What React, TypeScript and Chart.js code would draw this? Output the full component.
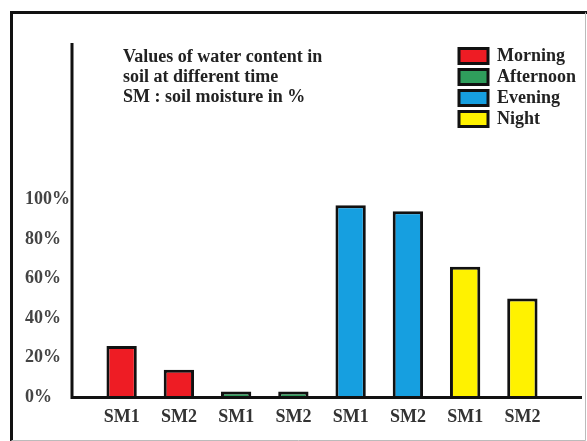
import React, { useEffect, useRef } from "react";
import { Chart, registerables } from "chart.js";

Chart.register(...registerables);

// ---- data ----
const sensorLabels = ["SM1", "SM2"];
const periods = ["Morning", "Afternoon", "Evening", "Night"];
const morningValues = [26, 14];
const afternoonValues = [3, 3];
const eveningValues = [97, 94];
const nightValues = [66, 50];
const yTickValues = [0, 20, 40, 60, 80, 100];
const titleLines = [
  "Values of water content in",
  "soil at different time",
  "SM : soil moisture in %",
];

// ---- styles ----
const periodColors = ["#ee1c24", "#2f9e5c", "#169fe0", "#fff200"];
const FONT = '"Liberation Serif", "Times New Roman", serif';
const Y_MAX = 179;

const seriesValues = [morningValues, afternoonValues, eveningValues, nightValues];
const categories = periods.flatMap(() => sensorLabels);

const decorPlugin = {
  id: "decor",
  afterLayout(chart: any) {
    const lg = chart.legend;
    if (lg) {
      lg.left = 456;
      lg.top = 44;
      lg.right = 587;
      lg.bottom = 150;
    }
  },
  beforeDraw(chart: any) {
    const ctx = chart.ctx;
    ctx.save();
    ctx.fillStyle = "#ffffff";
    ctx.fillRect(0, 0, chart.width, chart.height);
    // outer frame
    ctx.strokeStyle = "#111";
    ctx.lineWidth = 3;
    ctx.beginPath();
    ctx.moveTo(11.5, chart.height);
    ctx.lineTo(11.5, 12.5);
    ctx.lineTo(chart.width, 12.5);
    ctx.stroke();
    ctx.strokeStyle = "#bbbbbb";
    ctx.lineWidth = 1;
    ctx.beginPath();
    ctx.moveTo(585.5, 12.5);
    ctx.lineTo(585.5, 440.5);
    ctx.lineTo(11.5, 440.5);
    ctx.stroke();
    ctx.restore();
  },
  afterDatasetsDraw(chart: any) {
    const ctx = chart.ctx;
    const yScale = chart.scales.y;
    const base = yScale.getPixelForValue(0);
    const axisX = chart.chartArea.left - 21;
    ctx.save();
    ctx.strokeStyle = "#111";
    ctx.lineWidth = 3;
    ctx.beginPath();
    ctx.moveTo(axisX, chart.chartArea.top);
    ctx.lineTo(axisX, base);
    ctx.lineTo(582, base);
    ctx.stroke();
    // title text
    ctx.fillStyle = "#222";
    ctx.font = `bold 18px ${FONT}`;
    ctx.textBaseline = "alphabetic";
    ctx.textAlign = "left";
    titleLines.forEach((line, i) => {
      ctx.fillText(line, 123, 62 + i * 20);
    });
    ctx.restore();
  },
};

export default function App() {
  const canvasRef = useRef<HTMLCanvasElement | null>(null);

  useEffect(() => {
    const canvas = canvasRef.current;
    if (!canvas) return;
    const datasets = periods.map((p, gi) => ({
      label: p,
      data: categories.map((_, i) =>
        Math.floor(i / sensorLabels.length) === gi
          ? seriesValues[gi][i % sensorLabels.length]
          : null
      ),
      backgroundColor: periodColors[gi],
      borderColor: "#111",
      borderWidth: 3,
      categoryPercentage: 1,
      barPercentage: 0.53,
    }));

    const chart = new Chart(canvas, {
      type: "bar",
      data: { labels: categories, datasets },
      plugins: [decorPlugin],
      options: {
        animation: false,
        responsive: false,
        skipNull: true,
        layout: { padding: { left: 25, right: 36, top: 43, bottom: 4 } },
        plugins: {
          title: { display: false },
          tooltip: { enabled: false },
          legend: {
            display: true,
            position: "chartArea",
            align: "start",
            labels: {
              boxWidth: 29,
              boxHeight: 15,
              padding: 3,
              color: "#222",
              font: { family: FONT, size: 18, weight: "bold" },
            },
          },
        },
        scales: {
          x: {
            grid: { display: false, drawTicks: false },
            border: { display: false },
            ticks: {
              color: "#333",
              padding: 9,
              maxRotation: 0,
              autoSkip: false,
              font: { family: FONT, size: 18, weight: "bold" },
            },
          },
          y: {
            min: 0,
            max: Y_MAX,
            grid: { display: false, drawTicks: false },
            border: { display: false },
            afterBuildTicks: (s: any) => {
              s.ticks = yTickValues.map((v) => ({ value: v }));
            },
            afterFit: (s: any) => {
              s.width = 68;
            },
            ticks: {
              color: "#444",
              crossAlign: "far",
              padding: 0,
              callback: (v: any) => `${v}%`,
              font: { family: FONT, size: 18, weight: "bold" },
            },
          },
        },
      } as any,
    });
    return () => chart.destroy();
  }, []);

  return (
    <div style={{ position: "fixed", left: 0, top: 0, width: 587, height: 441, background: "#fff" }}>
      <canvas ref={canvasRef} width={587} height={441} style={{ display: "block" }} />
    </div>
  );
}
